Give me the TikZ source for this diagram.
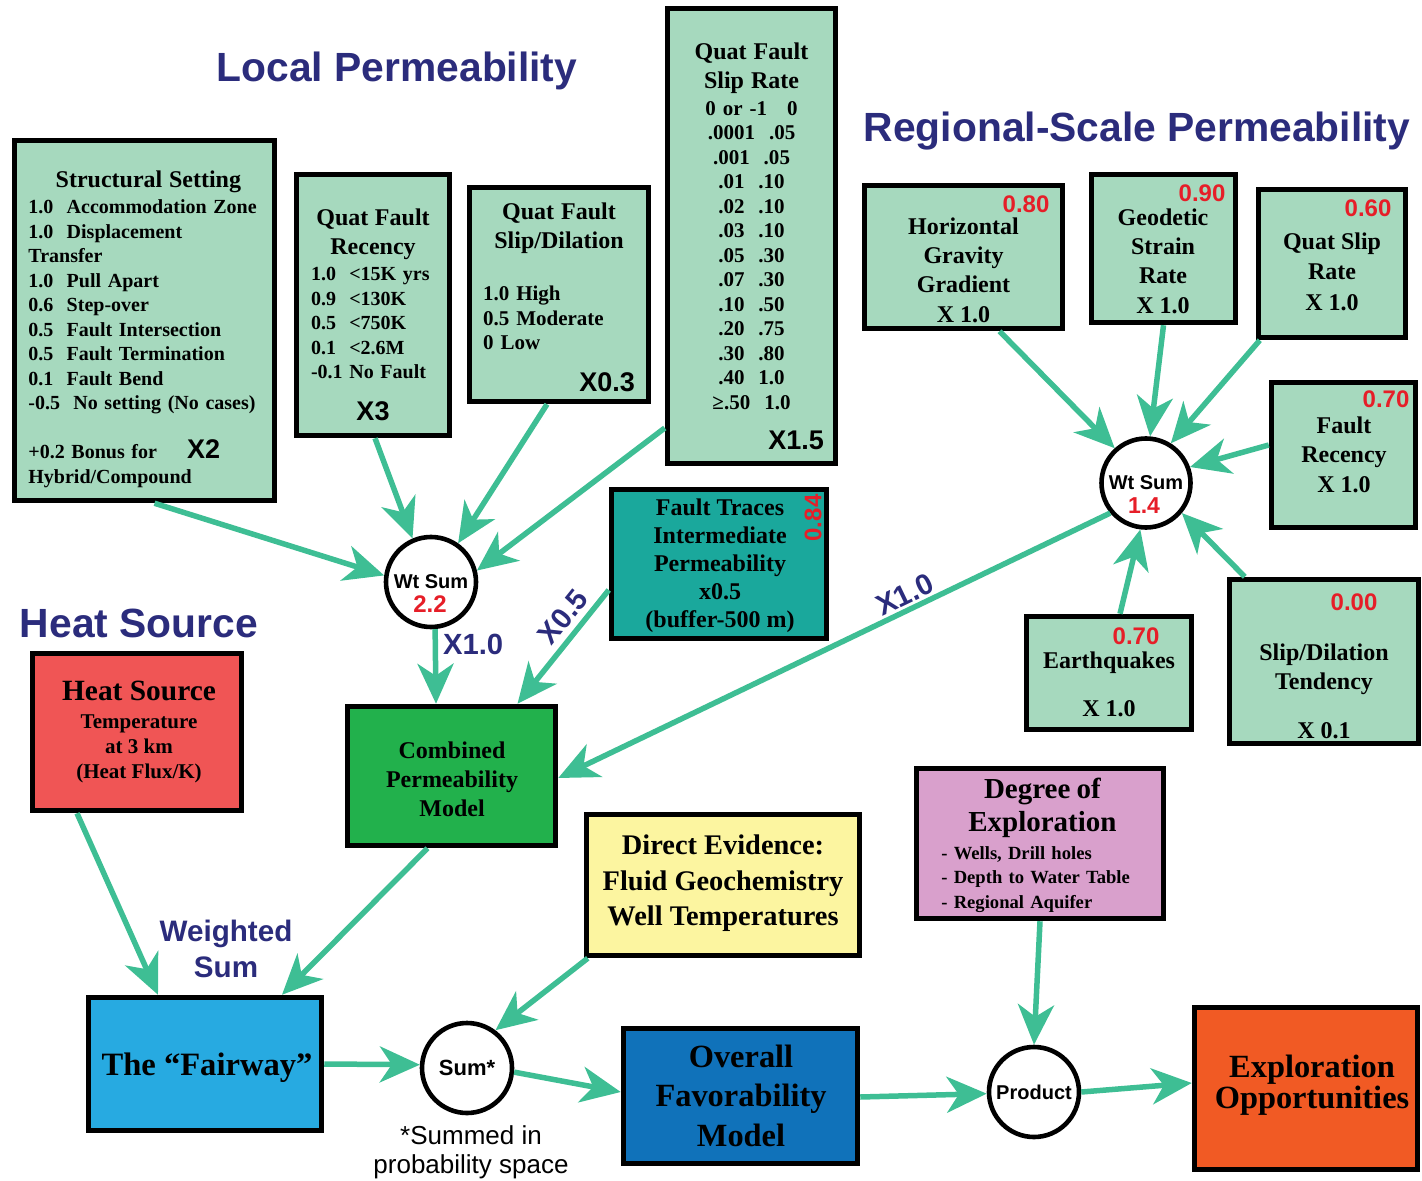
\documentclass[tikz,border=0pt]{standalone}
\usepackage{fontspec}
\setmainfont{Liberation Serif}
\setsansfont{Liberation Sans}
\usetikzlibrary{arrows.meta}
\definecolor{mint}{HTML}{A6D9BE}
\definecolor{faultteal}{HTML}{1AA89C}
\definecolor{heatred}{HTML}{F05555}
\definecolor{permgreen}{HTML}{22B14C}
\definecolor{evidyellow}{HTML}{FCF5A0}
\definecolor{exppink}{HTML}{D9A0CC}
\definecolor{fairblue}{HTML}{27AAE1}
\definecolor{favblue}{HTML}{1072BA}
\definecolor{opporange}{HTML}{F15A24}
\definecolor{arrgreen}{HTML}{3EBE94}
\definecolor{titleblue}{HTML}{2B2C7C}
\definecolor{wtred}{HTML}{E61E28}
\newcommand{\fsz}[2]{\fontsize{#1}{#2}\selectfont}
\begin{document}
\begin{tikzpicture}[x=0.5pt,y=-0.5pt,
	box/.style={draw=black,line width=2.75pt,inner sep=0pt},
	wsum/.style={circle,draw=black,line width=2.3pt,fill=white,minimum size=45pt,inner sep=0pt,font=\sffamily\bfseries\fsz{10}{12}},
	txt/.style={inner sep=0pt,align=center,font=\bfseries\fsz{12}{14.65}},
	lst/.style={inner sep=0pt,font=\bfseries\fsz{10}{12.25}},
	wgt/.style={inner sep=0pt,text=wtred,font=\sffamily\bfseries\fsz{12}{12}},
	ttl/.style={inner sep=0pt,text=titleblue,font=\sffamily\bfseries\fsz{20.4}{24}},
	mult/.style={text=titleblue,font=\sffamily\bfseries\fsz{14.6}{16}},
	arr/.style={line width=2.75pt,draw=arrgreen,-{Stealth[length=20pt,width=18pt,inset=6pt]}}]
	\useasboundingbox (0,0) rectangle (1422,1181);
	% titles
	\node[ttl] (t-local) at (397,71) {Local Permeability};
	\node[ttl] (t-region) at (1137,131) {Regional-Scale Permeability};
	\node[ttl] (t-heat) at (139,623) {Heat Source};
	% local permeability
	\node[box,fill=mint,minimum width=130pt,minimum height=180pt] (ss) at (144.5,320.5) {};
	\node[lst,anchor=west,text width=120pt,align=left] (ss-t) at (28,329.5) {\makebox[\linewidth]{\fsz{12}{12}Structural Setting}\\[0.75pt]
		\mbox{1.0\ \ Accommodation Zone}\\
		1.0\ \ Displacement\\
		Transfer\\
		1.0\ \ Pull Apart\\
		0.6\ \ Step-over\\
		0.5\ \ Fault Intersection\\
		0.5\ \ Fault Termination\\
		0.1\ \ Fault Bend\\
		\mbox{-0.5\ \ No setting (No cases)}\\[12.25pt]
		+0.2 Bonus for\hspace{15pt}{\sffamily\fsz{13.5}{12}X2}\\
		Hybrid/Compound};
	\node[box,fill=mint,minimum width=76.5pt,minimum height=130.5pt] (rec) at (373,305) {};
	\node[lst,text width=62pt,align=left] (rec-t) at (373,315) {\makebox[\linewidth]{\fsz{12}{12}Quat Fault}\\[2.25pt]
		\makebox[\linewidth]{\fsz{12}{12}Recency}\\[0.75pt]
		\mbox{1.0\ \ <15K yrs}\\
		\mbox{0.9\ \ <130K}\\
		\mbox{0.5\ \ <750K}\\
		\mbox{0.1\ \ <2.6M}\\
		\mbox{-0.1 No Fault}\\[8.75pt]
		\makebox[\linewidth]{\sffamily\fsz{13.5}{12}X3}};
	\node[box,fill=mint,minimum width=89.5pt,minimum height=107pt] (sd) at (559,294.5) {};
	\node[lst,text width=76pt,align=left,font=\bfseries\fsz{10.5}{12.25}] (sd-t) at (559,297.5) {\makebox[\linewidth]{\fsz{12}{12}Quat Fault}\\[2.25pt]
		\makebox[\linewidth]{\fsz{12}{12}Slip/Dilation}\\[13.75pt]
		1.0 High\\
		0.5 Moderate\\
		0 Low\\[8.75pt]
		\hfill{\sffamily\fsz{13.5}{12}X0.3}};
	\node[box,fill=mint,minimum width=84pt,minimum height=227.5pt] (sr) at (751.5,236) {};
	\node[lst,text width=72.5pt,align=center,font=\bfseries\fsz{10.5}{12.25}] (sr-t) at (751.5,246) {{\fsz{12}{12}Quat Fault}\\[2.25pt]
		{\fsz{12}{12}Slip Rate}\\[1.25pt]
		0 or -1\hspace{10pt}0\\
		.0001\ \ .05\\ .001\ \ .05\\ .01\ \ .10\\ .02\ \ .10\\ .03\ \ .10\\ .05\ \ .30\\
		.07\ \ .30\\ .10\ \ .50\\ .20\ \ .75\\ .30\ \ .80\\ .40\ \ 1.0\\ ≥.50\ \ 1.0\\[7.75pt]
		\hfill{\sffamily\fsz{13.5}{12}X1.5}};
	\node[box,fill=faultteal,minimum width=107.5pt,minimum height=74.5pt] (ft) at (719,564) {};
	\node[txt,font=\bfseries\fsz{12}{14}] (ft-t) at (720,566) {Fault Traces\\Intermediate\\Permeability\\x0.5\\(buffer-500 m)};
	\node[wgt,rotate=90] (ft-v) at (813,518) {0.84};
	% regional-scale permeability
	\node[box,fill=mint,minimum width=99pt,minimum height=71.5pt] (hgg) at (963.5,257) {};
	\node[txt] (hgg-t) at (963.5,270) {Horizontal\\Gravity\\Gradient\\X 1.0};
	\node[wgt] (hgg-v) at (1026,204) {0.80};
	\node[box,fill=mint,minimum width=72pt,minimum height=74pt] (gsr) at (1163.5,248.5) {};
	\node[txt] (gsr-t) at (1163,261) {Geodetic\\Strain\\Rate\\X 1.0};
	\node[wgt] (gsr-v) at (1202,193) {0.90};
	\node[box,fill=mint,minimum width=73.5pt,minimum height=74pt] (qsr) at (1332,263.5) {};
	\node[txt,font=\bfseries\fsz{12}{15.25}] (qsr-t) at (1332,271.5) {Quat Slip\\Rate\\X 1.0};
	\node[wgt] (qsr-v) at (1368,208) {0.60};
	\node[box,fill=mint,minimum width=72pt,minimum height=72.5pt] (fr) at (1343.5,455) {};
	\node[txt,font=\bfseries\fsz{12}{14.75}] (fr-t) at (1344,454.5) {Fault\\Recency\\X 1.0};
	\node[wgt] (fr-v) at (1386,399) {0.70};
	\node[box,fill=mint,minimum width=82.5pt,minimum height=56.5pt] (eq) at (1109,673) {};
	\node[txt] (eq-t) at (1109,684) {Earthquakes\\[9.35pt]X 1.0};
	\node[wgt] (eq-v) at (1136,636) {0.70};
	\node[box,fill=mint,minimum width=94.5pt,minimum height=82pt] (sdt) at (1324,661.5) {};
	\node[txt,font=\bfseries\fsz{12}{14.5}] (sdt-t) at (1324,691) {Slip/Dilation\\Tendency\\[10pt]X 0.1};
	\node[wgt] (sdt-v) at (1354,602) {0.00};
	% weighted sums
	\node[wsum] (ws1) at (431,582) {Wt Sum};
	\node[wgt] (ws1-v) at (430,604) {2.2};
	\node[wsum,minimum size=44.5pt] (ws2) at (1146,483) {Wt Sum};
	\node[wgt,font=\sffamily\bfseries\fsz{11.5}{12}] (ws2-v) at (1144,506) {1.4};
	% models
	\node[box,fill=heatred,minimum width=104.5pt,minimum height=78.5pt] (hs) at (137,732) {};
	\node[txt,font=\bfseries\fsz{10.5}{12.5}] (hs-t) at (139,732) {{\fsz{14.7}{14}Heat Source}\\[1.5pt]Temperature\\at 3 km\\(Heat Flux/K)};
	\node[box,fill=permgreen,minimum width=104pt,minimum height=69.5pt] (cpm) at (451.5,776) {};
	\node[txt,font=\bfseries\fsz{12}{14.5}] (cpm-t) at (452,779) {Combined\\Permeability\\Model};
	\node[box,fill=evidyellow,minimum width=136.5pt,minimum height=70.5pt] (de) at (723,885) {};
	\node[txt,font=\bfseries\fsz{14.2}{17.75}] (de-t) at (723,883.5) {Direct Evidence:\\Fluid Geochemistry\\Well Temperatures};
	\node[box,fill=exppink,minimum width=123.5pt,minimum height=75pt] (dex) at (1040,843.5) {};
	\node[lst,anchor=west,text width=101pt,align=left,font=\bfseries\fsz{9.3}{12.25}] (dex-t) at (941,845) {\makebox[\linewidth]{\fsz{14.5}{14}Degree of}\\[2.25pt]
		\makebox[\linewidth]{\fsz{14.5}{14}Exploration}\\[1.75pt]
		\mbox{- Wells, Drill holes}\\
		\mbox{- Depth to Water Table}\\
		\mbox{- Regional Aquifer}};
	\node[box,fill=fairblue,minimum width=116.5pt,minimum height=66.5pt] (fw) at (205,1064) {};
	\node[txt,font=\bfseries\fsz{16.3}{18}] (fw-t) at (207,1068) {The “Fairway”};
	\node[wsum,font=\sffamily\bfseries\fsz{11}{12}] (sum) at (467,1068) {Sum*};
	\node[inner sep=0pt,align=center,font=\sffamily\fsz{13}{14.5}] (sum-note) at (471,1152) {*Summed in\\probability space};
	\node[box,fill=favblue,minimum width=117pt,minimum height=67.5pt] (ofm) at (740.5,1096) {};
	\node[txt,font=\bfseries\fsz{16.2}{19.75}] (ofm-t) at (741,1095.5) {Overall\\Favorability\\Model};
	\node[wsum,font=\sffamily\bfseries\fsz{10}{12}] (prod) at (1034,1092) {Product};
	\node[box,fill=opporange,minimum width=111.5pt,minimum height=81pt] (eo) at (1306,1088.5) {};
	\node[txt,font=\bfseries\fsz{16.2}{14.5}] (eo-t) at (1312,1085) {Exploration\\Opportunities};
	\node[inner sep=0pt,align=center,text=titleblue,font=\sffamily\bfseries\fsz{14.8}{18}] (ws-note) at (226,949) {Weighted\\Sum};
	% connectors
	\draw[arr] ([xshift=5pt]ss.south) -- (ws1.172);
	\draw[arr] ([xshift=1pt]rec.south) -- (ws1.113);
	\draw[arr] ([xshift=-6pt]sd.south) -- (ws1.55);
	\draw[arr] ([yshift=-96pt]sr.west) -- (ws1.14);
	\draw[arr] (ws1.-85) -- node[mult,pos=0.2,right,inner sep=2.5pt] (x-ws1) {X1.0} ([xshift=-7.75pt]cpm.north);
	\draw[arr] ([yshift=-13pt]ft.west) -- node[mult,pos=0.34,sloped,above,inner sep=3pt] (x-ft) {X0.5} ([xshift=33pt]cpm.north);
	\draw[arr] (ws2.220) -- node[mult,pos=0.36,sloped,above,inner sep=1pt] (x-ws2) {X1.0} ([yshift=-1pt]cpm.east);
	\draw[arr] ([xshift=18pt]hgg.south) -- (ws2.132);
	\draw[arr] (gsr.south) -- (ws2.85);
	\draw[arr] ([xshift=2pt]qsr.south west) -- (ws2.58);
	\draw[arr] ([yshift=5pt]fr.west) -- (ws2.20);
	\draw[arr] ([xshift=5.5pt]eq.north) -- (ws2.263);
	\draw[arr] ([xshift=9pt]sdt.north west) -- (ws2.320);
	\draw[arr] ([xshift=-30pt]hs.south) -- ([xshift=-23.5pt]fw.north);
	\draw[arr] ([xshift=-12pt]cpm.south) -- ([xshift=38.5pt]fw.north);
	\draw[arr] ([xshift=2pt]de.south west) -- (sum.53);
	\draw[arr] (fw.east) -- (sum.176);
	\draw[arr] (sum.-5) -- ([yshift=2pt]ofm.west);
	\draw[arr] ([yshift=-0.5pt]ofm.east) -- (prod.182);
	\draw[arr] (dex.south) -- (prod.north);
	\draw[arr] (prod.east) -- ([yshift=2.75pt]eo.west);
\end{tikzpicture}
\end{document}
